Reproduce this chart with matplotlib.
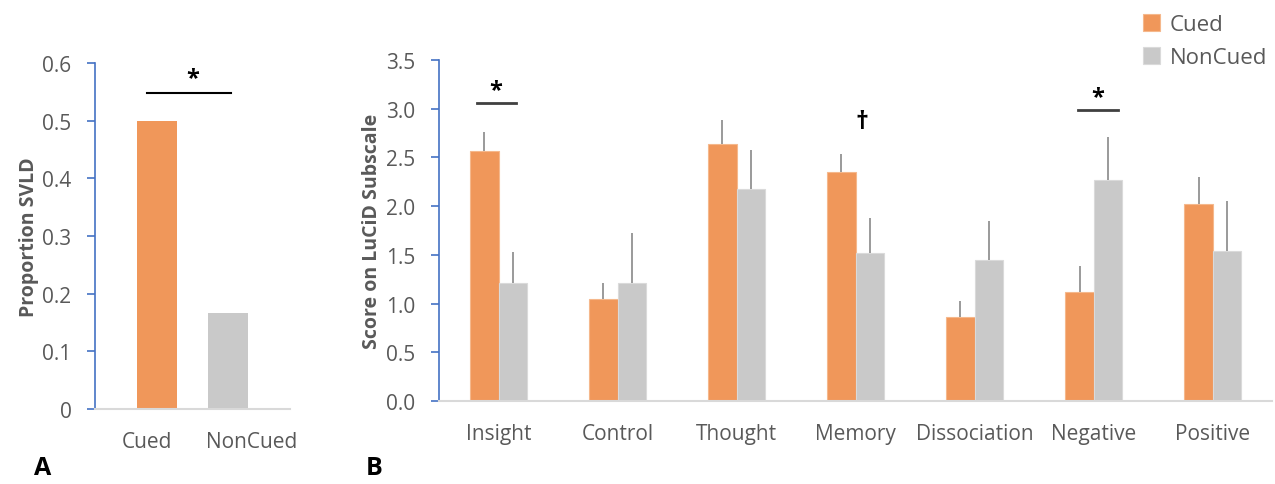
import numpy as np
import matplotlib
matplotlib.use("Agg")
import matplotlib.pyplot as plt
from matplotlib.transforms import ScaledTranslation

plt.rcParams['font.family'] = ['Open Sans', 'DejaVu Sans']

ORANGE = '#F0975A'
GRAY = '#C9C9C9'
TEXT = '#595959'
BLUE = '#4472C4'

# panel A
groups_a = ['Cued', 'NonCued']
prop_svld = [0.50, 0.167]

# panel B
subscales = ['Insight', 'Control', 'Thought', 'Memory', 'Dissociation', 'Negative', 'Positive']
cued_mean = [2.57, 1.05, 2.64, 2.35, 0.86, 1.12, 2.02]
cued_err = [0.19, 0.16, 0.24, 0.19, 0.17, 0.27, 0.28]
noncued_mean = [1.21, 1.21, 2.18, 1.52, 1.45, 2.27, 1.54]
noncued_err = [0.32, 0.51, 0.40, 0.36, 0.40, 0.44, 0.51]


def style_axis(ax):
    for s in ['top', 'right']:
        ax.spines[s].set_visible(False)
    ax.spines['left'].set_color(BLUE)
    ax.spines['left'].set_linewidth(1.2)
    ax.spines['bottom'].set_color('#D9D9D9')
    ax.spines['bottom'].set_linewidth(1.5)
    ax.tick_params(axis='y', colors=BLUE, labelcolor=TEXT, labelsize=15, length=6, width=1.2, pad=11)
    ax.tick_params(axis='x', length=0, labelcolor=TEXT, labelsize=15, pad=16)


fig = plt.figure(figsize=(12.75, 4.85), dpi=100)

# ---- A ----
axa = fig.add_axes([0.0745, 0.1546, 0.153, 0.7134])
xa = np.arange(len(groups_a))
axa.bar(xa, prop_svld, width=0.56, color=[ORANGE, GRAY])
axa.set_xlim(-0.873, 1.873)
axa.set_ylim(0, 0.6)
axa.set_yticks(np.arange(0, 0.61, 0.1))
axa.set_yticklabels(['0'] + [f'{v:.1f}' for v in np.arange(0.1, 0.61, 0.1)])
axa.set_xticks(xa)
axa.set_xticklabels(groups_a)
style_axis(axa)
# labels in the original sit a little apart from the bar centres
for lbl, dx in zip(axa.get_xticklabels(), [-10, 24]):
    lbl.set_transform(lbl.get_transform() + ScaledTranslation(dx / 100, 0, fig.dpi_scale_trans))
axa.set_ylabel('Proportion SVLD', fontsize=14, fontweight='bold', color=TEXT, labelpad=2)
axa.plot([-0.14, 1.04], [0.548, 0.548], color='black', lw=1.5)
axa.text(0.5, 0.553, '*', ha='center', va='bottom', fontsize=17, fontweight='bold')

# ---- B ----
axb = fig.add_axes([0.3443, 0.1711, 0.6537, 0.703])
xb = np.arange(len(subscales))
w = 0.24
axb.bar(xb - w / 2, cued_mean, width=w, color=ORANGE, label='Cued',
        edgecolor='#F5B88C', linewidth=0.8)
axb.bar(xb + w / 2, noncued_mean, width=w, color=GRAY, label='NonCued',
        edgecolor='#DADADA', linewidth=0.8)
axb.errorbar(xb - w / 2, cued_mean, yerr=[np.zeros(len(cued_err)), cued_err],
             fmt='none', ecolor='#7F7F7F', elinewidth=1.1, capsize=0)
axb.errorbar(xb + w / 2, noncued_mean, yerr=[np.zeros(len(noncued_err)), noncued_err],
             fmt='none', ecolor='#7F7F7F', elinewidth=1.1, capsize=0)
axb.set_xlim(-0.5, 6.5)
axb.set_ylim(0, 3.5)
axb.set_yticks(np.arange(0, 3.51, 0.5))
axb.set_yticklabels([f'{v:.1f}' for v in np.arange(0, 3.51, 0.5)])
axb.set_xticks(xb)
axb.set_xticklabels(subscales)
style_axis(axb)
axb.set_ylabel('Score on LuCiD Subscale', fontsize=14, fontweight='bold', color=TEXT, labelpad=3)

# significance marks
axb.plot([-0.18, 0.15], [3.06, 3.06], color='#404040', lw=2)
axb.text(-0.02, 3.07, '*', ha='center', va='bottom', fontsize=17, fontweight='bold')
axb.text(3.05, 2.74, '†', ha='center', va='bottom', fontsize=18, fontweight='bold')
axb.plot([4.87, 5.2], [2.99, 2.99], color='#404040', lw=2)
axb.text(5.03, 3.0, '*', ha='center', va='bottom', fontsize=17, fontweight='bold')

leg = fig.legend(loc='upper left', bbox_to_anchor=(0.881, 1.01), frameon=False,
                 fontsize=16, handlelength=0.75, handleheight=0.75, labelspacing=0.55,
                 handletextpad=0.45)
for t in leg.get_texts():
    t.set_color(TEXT)

fig.text(0.027, 0.02, 'A', fontsize=18, fontweight='bold')
fig.text(0.287, 0.02, 'B', fontsize=18, fontweight='bold')

fig.savefig('out.png', dpi=100)
